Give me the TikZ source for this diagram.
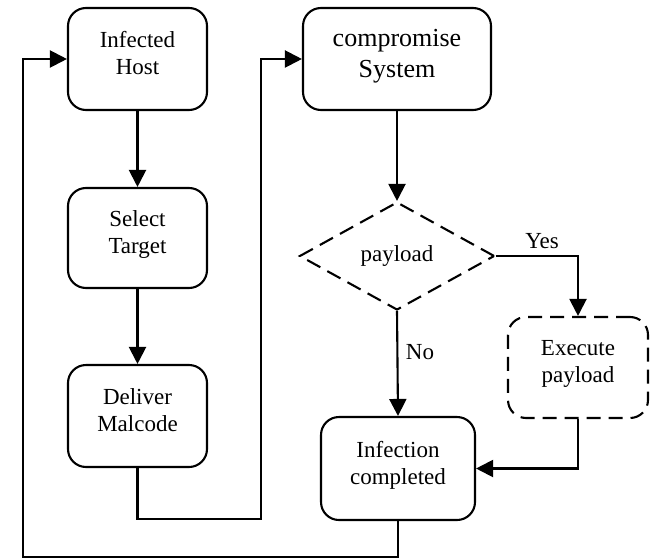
\documentclass[tikz,border=0pt]{standalone}
\usepackage{fontspec}
\setmainfont{Liberation Serif}
\usetikzlibrary{arrows.meta,shapes.geometric}

\begin{document}
\begin{tikzpicture}[x=1pt,y=-1pt,
	box/.style={draw,line width=2.1pt,rounded corners=18pt,align=center,inner sep=0pt,
		text depth=12pt,font=\fontsize{23}{27}\selectfont},
	dbox/.style={box,dash pattern=on 14pt off 8pt},
	decide/.style={draw,diamond,line width=2.1pt,dash pattern=on 15pt off 8pt,inner sep=0pt,
		minimum width=195pt,minimum height=108pt,font=\fontsize{23}{27}\selectfont},
	arr/.style={line width=2.1pt,-{Triangle[length=17pt,width=17pt]}},
	lab/.style={font=\fontsize{23}{27}\selectfont}]
		\useasboundingbox (0,0) rectangle (652,559);
		% linke Spalte
		\node[box,minimum width=139pt,minimum height=102pt] (host) at (137.5,59) {Infected\\Host};
		\node[box,minimum width=139pt,minimum height=100pt] (select) at (137.5,238) {Select\\Target};
		\node[box,minimum width=139pt,minimum height=102pt] (deliver) at (137.5,416) {Deliver\\Malcode};
		% rechte Spalte
		\node[box,minimum width=188pt,minimum height=102pt,font=\fontsize{26}{31}\selectfont] (comp) at (397,59) {compromise\\System};
		\node[decide] (pay) at (397,256) {payload};
		\node[dbox,minimum width=140pt,minimum height=101pt] (exec) at (578,367.5) {Execute\\payload};
		\node[box,minimum width=154pt,minimum height=103pt] (inf) at (398,468.5) {Infection\\completed};
		% Hilfspunkte fuer die Schleifen
		\coordinate (d1) at (261,519);
		\coordinate (l1) at (23,557);
		% Pfeile links
		\draw[arr] (host) -- (select);
		\draw[arr] (select) -- (deliver);
		\draw[arr] (deliver.south) |- (d1) |- (comp.west);
		% Pfeile rechts
		\draw[arr] (comp) -- (pay);
		\draw[arr] (pay.east) -| (exec.north);
		\node[lab] (yes) at (542,241) {Yes};
		\draw[arr] (pay.south) -- (inf.north);
		\node[lab] (no) at (420,352) {No};
		\draw[arr] (exec.south) |- (inf.east);
		% Rueckweg zum Anfang
		\draw[arr] (inf.south) |- (l1) |- (host.west);
\end{tikzpicture}
\end{document}
